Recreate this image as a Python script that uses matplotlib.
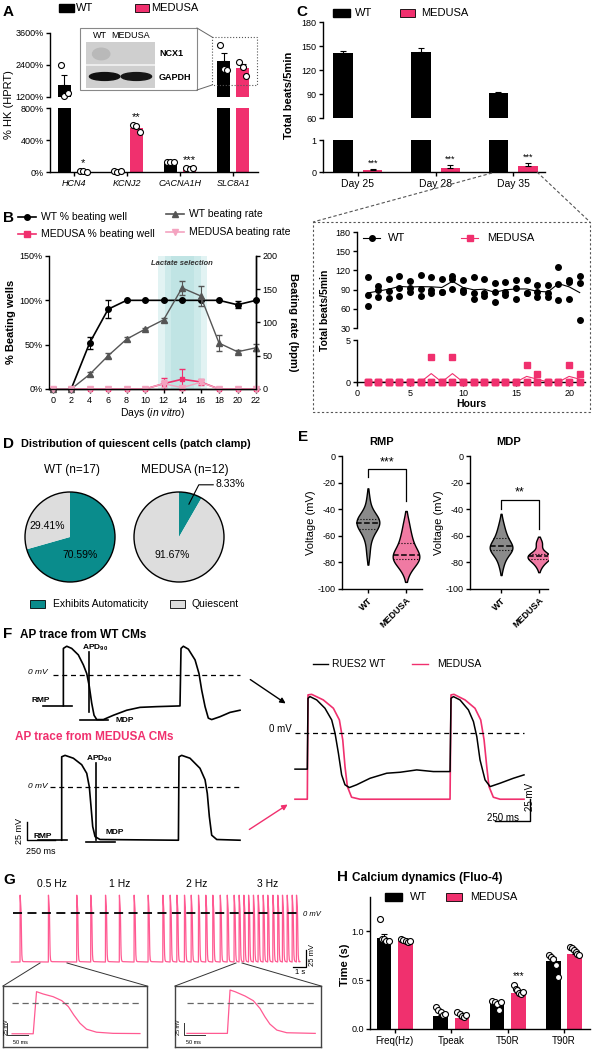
import numpy as np
import matplotlib
matplotlib.use("Agg")
import matplotlib.pyplot as plt
from matplotlib.patches import Rectangle, Ellipse, Circle

plt.rcParams['font.family'] = ['Liberation Sans', 'DejaVu Sans']
plt.rcParams['mathtext.fontset'] = 'custom'
plt.rcParams['mathtext.rm'] = 'Liberation Sans'
plt.rcParams['mathtext.it'] = 'Liberation Sans:italic'
plt.rcParams['mathtext.bf'] = 'Liberation Sans:bold'
plt.rcParams['axes.unicode_minus'] = False
plt.rcParams['axes.linewidth'] = 1.0
plt.rcParams['xtick.major.width'] = 1.0
plt.rcParams['ytick.major.width'] = 1.0
plt.rcParams['xtick.major.size'] = 3
plt.rcParams['ytick.major.size'] = 3
plt.rcParams['xtick.labelsize'] = 6.5
plt.rcParams['ytick.labelsize'] = 6.5
plt.rcParams['xtick.major.pad'] = 2
plt.rcParams['ytick.major.pad'] = 1.5

#%% data
# A - qPCR
genes = ['HCN4', 'KCNJ2', 'CACNA1H', 'SLC8A1']
a_wt = [1660, 8, 125, 2540]
a_wt_err = [370, 3, 10, 300]
a_med = [8, 555, 45, 2280]
a_med_err = [3, 35, 6, 170]
a_wt_pts = [[2400, 1240, 1350], [12, 6, 8], [130, 122, 125], [3150, 2250, 2230]]
a_med_pts = [[10, 8, 6], [590, 570, 500], [48, 42, 45], [2510, 2330, 2000]]
a_stars = ['*', '**', '***', '']

# B - beating wells over time
days = [0, 2, 4, 6, 8, 10, 12, 14, 16, 18, 20, 22]
b_wt_pct = [0, 0, 52, 90, 100, 100, 100, 100, 100, 100, 95, 100]
b_wt_pct_err = [0, 0, 7, 10, 0, 0, 0, 0, 0, 0, 4, 0]
b_med_pct = [0, 0, 0, 0, 0, 0, 6, 11, 8, 0, 0, 0]
b_med_pct_err = [0, 0, 0, 0, 0, 0, 6, 12, 3, 0, 0, 0]
b_wt_rate = [0, 0, 22, 50, 75, 90, 104, 152, 140, 69, 56, 62]
b_wt_rate_err = [0, 0, 3, 4, 3, 2, 3, 10, 15, 12, 2, 5]
b_med_rate = [0, 0, 0, 0, 0, 0, 8, 2, 10, 0, 0, 0]
b_med_rate_err = [0, 0, 0, 0, 0, 0, 5, 0, 3, 0, 0, 0]

# C - total beats
c_days = ['Day 25', 'Day 28', 'Day 35']
c_wt = [141, 143, 91]
c_wt_err = [3, 5, 1]
c_med = [0.07, 0.13, 0.18]
c_med_err = [0.02, 0.08, 0.09]

hours = list(range(1, 22))
wt_beats = [[109, 81, 64], [95, 90, 78], [107, 88, 77], [112, 93, 80], [104, 92, 86],
            [113, 91, 80], [109, 90, 84], [106, 87, 87], [111, 107, 91], [105, 89, 86],
            [109, 84, 76], [107, 85, 80], [101, 86, 70], [102, 86, 81], [105, 92, 76],
            [105, 84, 84], [97, 87, 78], [97, 84, 78], [126, 99, 73], [105, 102, 76],
            [112, 101, 43]]
med_beats = [[0, 0, 0], [0, 0, 0], [0, 0, 0], [0, 0, 0], [0, 0, 0], [0, 0, 0],
             [3, 0, 0], [0, 0, 0], [3, 0, 0], [0, 0, 0], [0, 0, 0], [0, 0, 0],
             [0, 0, 0], [0, 0, 0], [0, 0, 0], [2, 0, 0], [1, 0, 0], [0, 0, 0],
             [0, 0, 0], [2, 0, 0], [1, 0, 0]]

# D - pies
d_wt = [70.59, 29.41]
d_med = [8.33, 91.67]

# E - violins (per cell, mV)
rmp_wt = [-32, -40, -44, -45, -47, -48, -49, -50, -50, -51, -52, -53, -55, -58, -60, -66, -74]
rmp_med = [-50, -58, -63, -66, -72, -74, -75, -76, -77, -78, -80, -86]
mdp_wt = [-50, -55, -58, -61, -62, -65, -67, -68, -68, -69, -70, -70, -71, -72, -75, -78, -83]
mdp_med = [-65, -66, -73, -74, -75, -75, -76, -76, -77, -78, -80, -83]

# F - AP traces (ms, mV)
f_wt_t = [181, 181, 211, 255, 314, 359, 389, 412, 433, 454, 478, 537, 626, 745, 863, 1012,
          1219, 1228, 1249, 1293, 1353, 1388, 1412, 1442, 1471, 1501, 1575, 1664, 1753]
f_wt_v = [-43, 37, 40, 37, 28, 14, 2, -16, -39, -56, -62, -62, -56, -49, -45, -44,
          -43, 37, 40, 36, 21, 2, -21, -44, -60, -62, -58, -52, -49]
f_med_t = [166, 166, 196, 270, 344, 389, 412, 427, 442, 463, 507, 1205,
           1210, 1234, 1308, 1397, 1442, 1462, 1480, 1501, 1546, 1753]
f_med_v = [-74, 42, 44, 40, 31, 19, 0, -27, -55, -69, -73, -74,
           42, 44, 40, 26, 10, -9, -41, -67, -73, -74]
fr_wt_t = [0, 88, 93, 107, 155, 214, 262, 286, 310, 333, 357, 388, 440, 536, 655, 750, 869,
           988, 1107, 1114, 1131, 1178, 1238, 1274, 1298, 1321, 1357, 1393, 1464, 1559, 1635]
fr_wt_v = [-42, -42, 39.5, 41.4, 37.6, 28, 14.6, -0.8, -23.7, -48.6, -60, -63.2, -60, -52.5,
           -46.7, -45.6, -42.9, -44.8, -44.8, 39.5, 41.4, 37.6, 26.1, 12.7, -4.6, -31.4,
           -54.4, -62.1, -58.2, -52.5, -48.6]
fr_med_t = [0, 88, 93, 119, 202, 274, 317, 341, 357, 374, 404, 464, 1107, 1114, 1135,
            1214, 1285, 1326, 1350, 1369, 1385, 1416, 1464, 1635]
fr_med_v = [-76.6, -76.6, 43.4, 44, 37.6, 28, 14.6, -8.4, -39, -62, -74.3, -76.6, -76.6,
            43.4, 44, 37.6, 28, 14.6, -8.4, -39, -62, -74.3, -76.6, -76.6]

# G - paced traces
g_rates = ['0.5 Hz', '1 Hz', '2 Hz', '3 Hz']
g_spikes = [0.49, 2.47, 4.45, 5.43, 6.46, 7.43, 8.46, 9.44, 10.47, 10.98, 11.45, 11.98,
            12.45, 12.96, 13.47, 13.96, 14.48, 14.97, 15.45, 15.80, 16.13, 16.46, 16.80,
            17.13, 17.48, 17.80, 18.16, 18.50, 18.83, 19.16, 19.51, 19.81]
g_in1_t = [-51, 0, 8, 24, 48, 69, 85, 98, 113, 129, 153, 193, 258]
g_in1_v = [-73, -73, 25.7, 20.3, 14, 4.7, -9.4, -28.8, -48.3, -62.3, -69.3, -72, -72.5]
g_in2_t = [-98, 0, 6.5, 18.6, 42.8, 63, 79, 91, 103, 120, 144, 213]
g_in2_v = [-70.2, -70.2, 31.1, 27.2, 17.1, 6.1, -11.8, -31.4, -48.4, -62.5, -68.7, -70.2]

# H - calcium
h_params = ['Freq(Hz)', 'Tpeak', 'T50R', 'T90R']
h_wt = [0.93, 0.13, 0.27, 0.70]
h_wt_err = [0.04, 0.015, 0.02, 0.04]
h_med = [0.90, 0.11, 0.37, 0.77]
h_med_err = [0.01, 0.01, 0.015, 0.015]
h_wt_pts = [[1.12, 0.92, 0.92, 0.90, 0.90], [0.22, 0.19, 0.17, 0.14, 0.15],
            [0.29, 0.28, 0.26, 0.19, 0.28], [0.76, 0.74, 0.72, 0.65, 0.53]]
h_med_pts = [[0.92, 0.91, 0.90, 0.89, 0.90], [0.17, 0.15, 0.13, 0.12, 0.14],
             [0.45, 0.41, 0.40, 0.37, 0.36, 0.38], [0.84, 0.83, 0.81, 0.79, 0.77, 0.76]]

#%% figure
PINK = '#f0306e'
LPINK = '#f07aa3'
RPINK = '#f4a3c0'
TRACE = '#ff5a92'
TEAL = '#0a8c8c'
QGREY = '#dddddd'

W, H = 592, 1050
fig = plt.figure(figsize=(W / 100, H / 100), dpi=100)


def pax(x0, y0, x1, y1, **kw):
    return fig.add_axes([x0 / W, 1 - y1 / H, (x1 - x0) / W, (y1 - y0) / H], **kw)


def clean(ax):
    ax.spines[['top', 'right']].set_visible(False)


ov = pax(0, 0, W, H, zorder=5)
ov.set_xlim(0, W)
ov.set_ylim(H, 0)
ov.axis('off')


def label(x, y, s, **kw):
    kw.setdefault('fontsize', 7)
    kw.setdefault('va', 'center')
    ov.text(x, y, s, **kw)


for s, x, y in [('A', 3, 12), ('B', 3, 218), ('C', 296, 12), ('D', 3, 444),
                ('E', 298, 437), ('F', 3, 634), ('G', 3, 880), ('H', 337, 877)]:
    label(x, y, s, fontsize=11, weight='bold')

ekw = dict(lw=0.8, capthick=0.8)

#%% A
axA1 = pax(50, 33, 258, 97)
axA2 = pax(50, 108, 258, 172)
xa = np.arange(len(genes))
for ax in (axA1, axA2):
    ax.bar(xa - 0.18, a_wt, 0.25, color='black',
           yerr=[np.zeros(4), a_wt_err], capsize=2, error_kw=ekw)
    ax.bar(xa + 0.18, a_med, 0.25, color=PINK,
           yerr=[np.zeros(4), a_med_err], capsize=2, error_kw=ekw)
    ax.set_xlim(-0.45, 3.47)
    clean(ax)
jit = [-0.07, 0.0, 0.07]
for i in range(len(genes)):
    for pts, dx in ((a_wt_pts[i], -0.18), (a_med_pts[i], 0.18)):
        for p, j in zip(pts, jit):
            ax = axA1 if p > 1000 else axA2
            ax.plot(xa[i] + dx + j, p, 'o', ms=4.3, mfc='white', mec='black',
                    mew=0.8, clip_on=False, zorder=4)
    if a_stars[i]:
        top = max(max(a_med_pts[i]), a_med[i] + a_med_err[i])
        axA2.text(xa[i] + 0.18, top + 40, a_stars[i], ha='center', va='bottom', fontsize=8)
axA1.set_ylim(1200, 3600)
axA1.set_yticks([1200, 2400, 3600], ['1200%', '2400%', '3600%'])
axA1.spines['bottom'].set_visible(False)
axA1.set_xticks([])
axA2.set_ylim(0, 800)
axA2.set_yticks([0, 400, 800], ['0%', '400%', '800%'])
axA2.set_xticks(xa, genes, style='italic', fontsize=6.5)
label(9, 105, '% HK (HPRT)', rotation=90, ha='center', fontsize=8)
ov.add_patch(Rectangle((59, 4), 15, 8, color='black'))
label(76, 8, 'WT', fontsize=8)
ov.add_patch(Rectangle((135, 4), 14, 8, fc=PINK, ec='black', lw=0.6))
label(151, 8, 'MEDUSA', fontsize=8)
# blot inset
ov.add_patch(Rectangle((80, 28), 117, 62, fc='white', ec='#888888', lw=0.8))
ov.add_patch(Rectangle((212, 37), 45, 48, fill=False, ec='#555555', lw=0.8, ls=':'))
ov.plot([197, 212], [28, 37], color='#666666', lw=0.7)
ov.plot([197, 212], [90, 85], color='#666666', lw=0.7)
label(100, 35, 'WT', ha='center', fontsize=6.5)
label(131, 35, 'MEDUSA', ha='center', fontsize=6.5)
label(159, 54, 'NCX1', fontsize=6.5, weight='bold')
label(159, 78, 'GAPDH', fontsize=6.5, weight='bold')
axBl = pax(86, 42, 155, 88, zorder=6)
axBl.set_xlim(0, 1)
axBl.set_ylim(0, 1)
axBl.set_facecolor('#cfcfcf')
axBl.set_xticks([])
axBl.set_yticks([])
for sp in axBl.spines.values():
    sp.set_visible(False)
axBl.axhline(0.5, color='#f2f2f2', lw=1.2)
axBl.add_patch(Ellipse((0.22, 0.74), 0.25, 0.25, color='#b9b9b9'))
axBl.add_patch(Ellipse((0.27, 0.25), 0.44, 0.17, color='#111111'))
axBl.add_patch(Ellipse((0.73, 0.25), 0.44, 0.17, color='#161616'))

#%% B
axB = pax(49, 256, 256, 389)
axB2 = axB.twinx()
for lo, hi, al in [(11.4, 16.7, 0.25), (12.1, 16.0, 0.25), (12.8, 15.3, 0.2)]:
    axB.axvspan(lo, hi, color='#8fd0d0', alpha=al, lw=0)
axB.errorbar(days, b_wt_pct, yerr=b_wt_pct_err, color='black', marker='o', ms=4,
             lw=1.2, capsize=2, elinewidth=0.8, clip_on=False, zorder=4)
axB.errorbar(days, b_med_pct, yerr=b_med_pct_err, color=PINK, marker='s', ms=3.5,
             lw=1.2, capsize=2, elinewidth=0.8, clip_on=False, zorder=3)
axB2.errorbar(days, b_wt_rate, yerr=b_wt_rate_err, color='#555555', marker='^', ms=4,
              lw=1.0, capsize=2, elinewidth=0.8, clip_on=False)
axB2.errorbar(days, b_med_rate, yerr=b_med_rate_err, color=RPINK, marker='v', ms=4,
              lw=1.0, capsize=2, elinewidth=0.8, clip_on=False)
axB.set_xlim(-0.4, 22)
axB.set_ylim(0, 150)
axB.set_yticks([0, 50, 100, 150], ['0%', '50%', '100%', '150%'])
axB.set_xticks(days)
axB2.set_ylim(0, 200)
axB2.set_yticks([0, 50, 100, 150, 200])
axB.spines['top'].set_visible(False)
axB2.spines[['top', 'left']].set_visible(False)
axB.text(14, 142, 'Lactate selection', ha='center', va='center', fontsize=5.5,
         style='italic', weight='bold', color='#333333')
axB.set_xlabel('Days ($\\mathit{in\\ vitro}$)', fontsize=7.5, labelpad=1)
label(11, 322, '% Beating wells', rotation=90, ha='center', fontsize=8, weight='bold')
label(293, 322, 'Beating rate (bpm)', rotation=270, ha='center', fontsize=8, weight='bold')
for (x0, y0, col, mk, txt) in [(18, 217, 'black', 'o', 'WT % beating well'),
                               (166, 214, '#555555', '^', 'WT beating rate'),
                               (18, 234, PINK, 's', 'MEDUSA % beating well'),
                               (166, 232, RPINK, 'v', 'MEDUSA beating rate')]:
    ov.plot([x0, x0 + 18], [y0, y0], color=col, lw=1.2)
    ov.plot([x0 + 9], [y0], marker=mk, color=col, ms=4)
    label(x0 + 23, y0, txt, fontsize=7.5)

#%% C
axC1 = pax(323, 22, 545, 118)
axC2 = pax(323, 140, 545, 172)
xc = np.arange(len(c_days))
for ax in (axC1, axC2):
    ax.bar(xc - 0.19, c_wt, 0.25, color='black',
           yerr=[np.zeros(3), c_wt_err], capsize=2.5, error_kw=ekw)
    ax.bar(xc + 0.19, c_med, 0.25, color=PINK,
           yerr=[np.zeros(3), c_med_err], capsize=2.5, error_kw=ekw)
    ax.set_xlim(-0.45, 2.41)
    clean(ax)
for i in range(3):
    axC2.text(xc[i] + 0.19, c_med[i] + c_med_err[i] + 0.05, '***', ha='center',
              va='bottom', fontsize=6.5)
axC1.set_ylim(60, 180)
axC1.set_yticks([60, 90, 120, 150, 180])
axC1.spines['bottom'].set_visible(False)
axC1.set_xticks([])
axC2.set_ylim(0, 1)
axC2.set_yticks([0, 1])
axC2.set_xticks(xc, c_days, fontsize=7.5)
label(289, 95, 'Total beats/5min', rotation=90, ha='center', fontsize=8, weight='bold')
ov.add_patch(Rectangle((333, 9), 17, 8, color='black'))
label(355, 13, 'WT', fontsize=8)
ov.add_patch(Rectangle((400, 9), 15, 8, fc=PINK, ec='black', lw=0.6))
label(421, 13, 'MEDUSA', fontsize=8)
# zoom box
ov.plot([492, 313], [173, 222], color='#555555', lw=0.8, ls=(0, (3, 2)))
ov.plot([537, 590], [172, 222], color='#555555', lw=0.8, ls=(0, (3, 2)))
ov.add_patch(Rectangle((313, 222), 277, 190, fill=False, ec='#555555', lw=0.8, ls=(0, (2, 2))))
axI1 = pax(357, 232, 585, 328)
axI2 = pax(357, 340, 585, 382)
for h, vals in zip(hours, wt_beats):
    axI1.plot([h] * len(vals), vals, 'o', color='black', ms=4, clip_on=False)
axI1.plot(hours, [np.mean(v) for v in wt_beats], color='black', lw=0.8)
for h, vals in zip(hours, med_beats):
    axI2.plot([h] * len(vals), vals, 's', color=PINK, ms=3.8, clip_on=False, zorder=4)
axI2.plot(hours, [np.mean(v) for v in med_beats], color=PINK, lw=0.8, clip_on=False)
for ax in (axI1, axI2):
    ax.set_xlim(0, 21.5)
    clean(ax)
axI1.set_ylim(30, 180)
axI1.set_yticks([30, 60, 90, 120, 150, 180])
axI1.spines['bottom'].set_visible(False)
axI1.set_xticks([])
axI2.set_ylim(0, 5)
axI2.set_yticks([0, 5])
axI2.set_xticks([0, 5, 10, 15, 20])
axI2.set_xlabel('Hours', fontsize=7.5, weight='bold', labelpad=1)
label(325, 310, 'Total beats/5min', rotation=90, ha='center', fontsize=7.5, weight='bold')
ov.plot([363, 380], [238, 238], color='black', lw=0.8)
ov.plot([371.5], [238], 'o', color='black', ms=4)
label(388, 238, 'WT', fontsize=8)
ov.plot([461, 478], [238, 238], color=PINK, lw=0.8)
ov.plot([469.5], [238], 's', color=PINK, ms=4)
label(487, 238, 'MEDUSA', fontsize=8)

#%% D
label(21, 444, 'Distribution of quiescent cells (patch clamp)', fontsize=7.8, weight='bold')
axD1 = pax(25, 492, 115, 582)
axD2 = pax(134, 492, 224, 582)
for ax, vals in ((axD1, d_wt), (axD2, d_med)):
    ax.pie(vals, colors=[TEAL, QGREY], startangle=90, counterclock=False,
           wedgeprops=dict(lw=0))
    ax.add_patch(Circle((0, 0), 1, fill=False, ec='black', lw=1, clip_on=False))
    ax.set_xlim(-1, 1)
    ax.set_ylim(-1, 1)
axD1.text(-0.5, 0.24, f'{d_wt[1]:.2f}%', ha='center', va='center', fontsize=7.5)
axD1.text(0.22, -0.4, f'{d_wt[0]:.2f}%', ha='center', va='center', fontsize=7.5)
axD2.text(-0.16, -0.4, f'{d_med[1]:.2f}%', ha='center', va='center', fontsize=7.5)
axD2.plot([0.22, 0.44, 0.76], [0.73, 1.16, 1.16], color='black', lw=0.8, clip_on=False)
axD2.text(0.82, 1.18, f'{d_med[0]:.2f}%', ha='left', va='center', fontsize=7.5)
label(72, 470, 'WT (n=17)', ha='center', fontsize=8.5)
label(185, 470, 'MEDUSA (n=12)', ha='center', fontsize=8.5)
ov.add_patch(Rectangle((30, 600), 15, 8, fc=TEAL, ec='black', lw=0.6))
label(53, 604, 'Exhibits Automaticity', fontsize=7.5)
ov.add_patch(Rectangle((170, 600), 15, 8, fc=QGREY, ec='black', lw=0.6))
label(192, 604, 'Quiescent', fontsize=7.5)


#%% E
def violin(ax, pos, vals, color, half):
    vals = np.asarray(vals, float)
    bw = vals.std(ddof=1) * len(vals) ** (-1 / 5)
    grid = np.linspace(vals.min() - 1.4 * bw, vals.max() + 1.4 * bw, 200)
    dens = np.exp(-0.5 * ((grid[:, None] - vals[None, :]) / bw) ** 2).sum(1)
    w = dens / dens.max() * half
    ax.fill_betweenx(grid, pos - w, pos + w, facecolor=color, edgecolor='black', lw=1)
    for q, ls in zip(np.percentile(vals, [25, 50, 75]), [':', '--', ':']):
        wq = np.interp(q, grid, w)
        ax.plot([pos - wq, pos + wq], [q, q], color='black', ls=ls,
                lw=1.1 if ls == '--' else 0.8)


axE1 = pax(342, 456, 422, 589)
axE2 = pax(470, 456, 548, 589)
violin(axE1, 0, rmp_wt, '#8a8a8a', 0.3)
violin(axE1, 1, rmp_med, LPINK, 0.35)
violin(axE2, 0, mdp_wt, '#8a8a8a', 0.3)
violin(axE2, 1, mdp_med, LPINK, 0.3)
axE1.set_xlim(-0.68, 1.42)
axE2.set_xlim(-0.82, 1.24)
for ax, ttl in ((axE1, 'RMP'), (axE2, 'MDP')):
    clean(ax)
    ax.set_ylim(-100, 0)
    ax.set_yticks([0, -20, -40, -60, -80, -100])
    ax.set_xticks([0, 1])
    ax.set_xticklabels(['WT', 'MEDUSA'], rotation=45, ha='right', rotation_mode='anchor',
                       fontsize=6.5, weight='bold')
    ax.set_title(ttl, fontsize=8, weight='bold', pad=8)
    ax.set_ylabel('Voltage (mV)', fontsize=8, labelpad=1)
axE1.plot([0, 0, 1, 1], [-16, -10, -10, -34], color='black', lw=0.9, clip_on=False)
axE1.text(0.5, -9, '***', ha='center', va='bottom', fontsize=9)
axE2.plot([0, 0, 1, 1], [-40, -33, -33, -55], color='black', lw=0.9, clip_on=False)
axE2.text(0.5, -32, '**', ha='center', va='bottom', fontsize=9)


#%% F
def blank(ax):
    ax.axis('off')


axF1 = pax(0, 640, 250, 730)
axF1.set_xlim(-383, 1842)
axF1.set_ylim(-76.5, 48.7)
blank(axF1)
axF1.plot(f_wt_t, f_wt_v, color='black', lw=1.2)
axF1.axhline(0, xmin=(89 + 383) / 2225, xmax=(1753 + 383) / 2225, color='black',
             lw=0.9, ls=(0, (4, 3)))
axF1.plot([0, 258], [-43, -43], color='black', lw=1.2)
axF1.plot([329, 578], [-62.5, -62.5], color='black', lw=1.2)
axF1.plot([409, 409], [32, -51], color='black', lw=1.2)

axF2 = pax(0, 745, 250, 860)
axF2.set_xlim(-383, 1842)
axF2.set_ylim(-101.5, 58.4)
blank(axF2)
axF2.plot(f_med_t, f_med_v, color='black', lw=1.2)
axF2.axhline(0, xmin=(62 + 383) / 2225, xmax=(1753 + 383) / 2225, color='black',
             lw=0.9, ls=(0, (4, 3)))
axF2.plot([-44, 213], [-74, -74], color='black', lw=1.2)
axF2.plot([383, 641], [-76, -76], color='black', lw=1.2)
axF2.plot([472, 472], [33, -74], color='black', lw=1.2)
axF2.plot([-142, -142, 108], [-48, -74, -74], color='black', lw=1)

label(20, 635, 'AP trace from WT CMs', fontsize=8.5, weight='bold')
label(15, 737, 'AP trace from MEDUSA CMs', fontsize=8.5, weight='bold', color=PINK)
label(48, 673, '0 mV', ha='right', fontsize=6, style='italic')
label(48, 786, '0 mV', ha='right', fontsize=6, style='italic')
label(32, 700, 'RMP', fontsize=6, weight='bold')
label(115, 720, 'MDP', fontsize=6, weight='bold')
label(82, 648, 'APD$_{\\mathbf{90}}$', fontsize=6, weight='bold')
label(33, 836, 'RMP', fontsize=6, weight='bold')
label(105, 833, 'MDP', fontsize=6, weight='bold')
label(86, 759, 'APD$_{\\mathbf{90}}$', fontsize=6, weight='bold')
label(19, 831, '25 mV', rotation=90, ha='center', fontsize=6.5)
label(41, 852, '250 ms', ha='center', fontsize=6.5)

axF3 = pax(280, 650, 560, 830)
axF3.set_xlim(-107, 1892)
axF3.set_ylim(-112, 95)
blank(axF3)
axF3.plot(fr_wt_t, fr_wt_v, color='black', lw=1.1, zorder=3)
axF3.plot(fr_med_t, fr_med_v, color=PINK, lw=1.2, zorder=2)
axF3.plot([0, 1635], [0, 0], color='black', lw=0.9, ls=(0, (4, 3)))
axF3.plot([1428, 1678, 1678], [-101.5, -101.5, -76.5], color='black', lw=1)
label(525, 797, '25 mV', rotation=90, ha='left', fontsize=7)
label(503, 818, '250 ms', ha='center', fontsize=7)
label(292, 729, '0 mV', ha='right', fontsize=7)
ov.plot([313, 328], [664, 664], color='black', lw=1)
label(332, 664, 'RUES2 WT', fontsize=7.5)
ov.plot([412, 428], [664, 664], color=PINK, lw=1)
label(437, 664, 'MEDUSA', fontsize=7.5)
ov.annotate('', xy=(288, 705), xytext=(248, 678),
            arrowprops=dict(arrowstyle='-|>', color='black', lw=1, mutation_scale=8))
ov.annotate('', xy=(290, 803), xytext=(247, 831),
            arrowprops=dict(arrowstyle='-|>', color=PINK, lw=1, mutation_scale=8))

#%% G
axG = pax(10, 888, 312, 975)
axG.set_xlim(-0.21, 20.9)
axG.set_ylim(-92.2, 36.3)
blank(axG)
tt, vv = [g_spikes[0] - 0.6], [g_in1_v[0]]
for s in g_spikes:
    for t, v in zip(g_in1_t[1:], g_in1_v[1:]):
        tt.append(s + t / 1000)
        vv.append(v)
tt.append(20.0)
vv.append(g_in1_v[-1])
axG.plot(tt, vv, color=TRACE, lw=0.9)
axG.plot([0.0, 20.0], [0, 0], color='black', lw=1.3, ls=(0, (5, 3)))
axG.plot([19.55, 20.45, 20.45], [-80, -80, -55], color='black', lw=0.9)
for txt, x in zip(g_rates, [52, 120, 197, 268]):
    label(x, 884, txt, ha='center', fontsize=7.5)
label(303, 914, '0 mV', fontsize=5.5, style='italic')
label(313, 955, '25 mV', rotation=90, ha='center', fontsize=5.5)
label(300, 972, '1 s', ha='center', fontsize=5.5)
for (x0, x1, a, b) in [(3, 147, 40, 67), (175, 321, 236, 242)]:
    ov.plot([x0, a], [986, 963], color='#333333', lw=0.7)
    ov.plot([x1, b], [986, 963], color='#333333', lw=0.7)

axG1 = pax(3, 986, 147, 1047)
axG1.set_xlim(-73, 275)
axG1.set_ylim(-104, 39)
axG1.plot(g_in1_t, g_in1_v, color=TRACE, lw=0.9)
axG1.plot([-52, 258], [0, 0], color='#666666', lw=0.9, ls=(0, (5, 3)))
axG1.plot([-63, -63, -13], [-48, -76, -76], color='#333333', lw=0.7)
axG2 = pax(175, 986, 321, 1047)
axG2.set_xlim(-127, 227)
axG2.set_ylim(-102, 40.5)
axG2.plot(g_in2_t, g_in2_v, color=TRACE, lw=0.9)
axG2.plot([-98, 213], [0, 0], color='#666666', lw=0.9, ls=(0, (5, 3)))
axG2.plot([-104, -104, -54], [-45, -74, -74], color='#333333', lw=0.7)
for ax in (axG1, axG2):
    ax.set_xticks([])
    ax.set_yticks([])
    for sp in ax.spines.values():
        sp.set_color('#444444')
label(6, 1027, '25 mV', rotation=90, ha='center', fontsize=4)
label(20, 1043, '50 ms', ha='center', fontsize=4)
label(178, 1027, '25 mV', rotation=90, ha='center', fontsize=4)
label(193, 1043, '50 ms', ha='center', fontsize=4)

#%% H
axH = pax(370, 897, 590, 1029)
xh = np.arange(len(h_params))
axH.bar(xh - 0.19, h_wt, 0.26, color='black',
        yerr=[np.zeros(4), h_wt_err], capsize=2, error_kw=ekw)
axH.bar(xh + 0.19, h_med, 0.26, color=PINK,
        yerr=[np.zeros(4), h_med_err], capsize=2, error_kw=ekw)
for i in range(len(h_params)):
    for pts, dx in ((h_wt_pts[i], -0.19), (h_med_pts[i], 0.19)):
        for p, j in zip(pts, np.linspace(-0.08, 0.08, len(pts))):
            axH.plot(xh[i] + dx + j, p, 'o', ms=4.3, mfc='white', mec='black',
                     mew=0.8, zorder=4, clip_on=False)
axH.text(2.19, 0.49, '***', ha='center', va='bottom', fontsize=7)
axH.set_xlim(-0.44, 3.46)
axH.set_ylim(0, 1.35)
axH.set_yticks([0, 0.5, 1.0], ['0.0', '0.5', '1.0'])
axH.set_xticks(xh, h_params, fontsize=7)
clean(axH)
label(352, 878, 'Calcium dynamics (Fluo-4)', fontsize=8.5, weight='bold')
label(345, 965, 'Time (s)', rotation=90, ha='center', fontsize=8, weight='bold')
ov.add_patch(Rectangle((385, 893), 17, 8, color='black'))
label(410, 897, 'WT', fontsize=8)
ov.add_patch(Rectangle((446, 893), 16, 8, fc=PINK, ec='black', lw=0.6))
label(470, 897, 'MEDUSA', fontsize=8)

fig.savefig('out.png', dpi=100)
